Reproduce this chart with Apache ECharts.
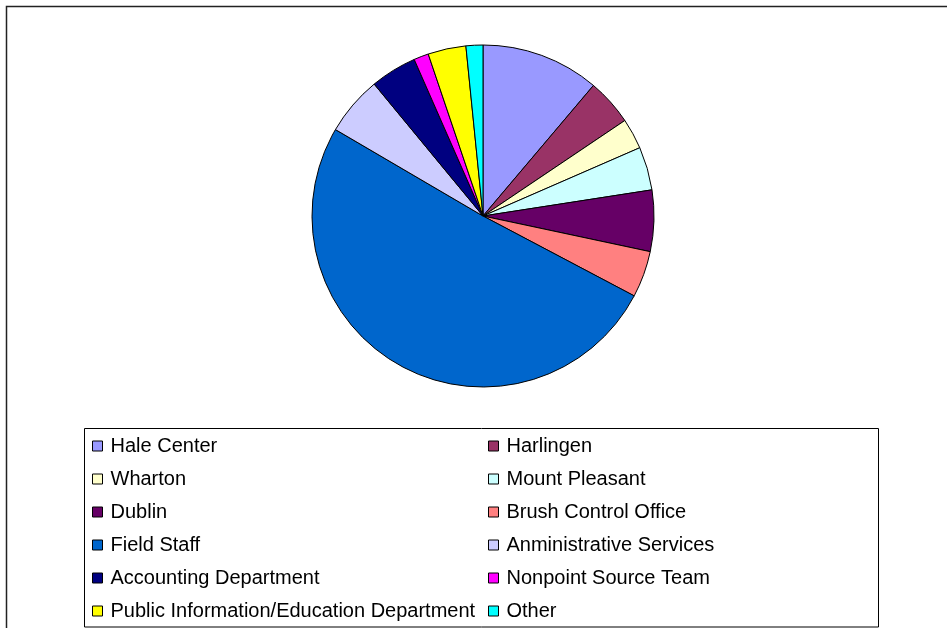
<!DOCTYPE html>
<html>
<head>
<meta charset="utf-8">
<script src="https://cdn.jsdelivr.net/npm/echarts@6/dist/echarts.min.js"></script>
<style>
  html, body { margin: 0; padding: 0; background: #fff; }
  #chart { width: 947px; height: 628px; }
</style>
</head>
<body>
<div id="chart"></div>
<script>
// Staff share by office (percent of total)
const offices = [
  'Hale Center', 'Harlingen', 'Wharton', 'Mount Pleasant', 'Dublin',
  'Brush Control Office', 'Field Staff', 'Anministrative Services',
  'Accounting Department', 'Nonpoint Source Team',
  'Public Information/Education Department', 'Other'
];
const shares = [11.2, 4.4, 2.9, 4.1, 5.8, 4.4, 50.8, 5.6, 4.4, 1.4, 3.6, 1.6];
const palette = [
  '#9999FF', '#993366', '#FFFFCC', '#CCFFFF', '#660066', '#FF8080',
  '#0066CC', '#CCCCFF', '#000080', '#FF00FF', '#FFFF00', '#00FFFF'
];

// Legend is laid out in two columns, filled row by row
const leftColumn = offices.filter((_, i) => i % 2 === 0);
const rightColumn = offices.filter((_, i) => i % 2 === 1);

const legendText = {
  fontFamily: 'Liberation Sans, Arial, sans-serif',
  fontSize: 20,
  color: '#000',
  lineHeight: 20,
  padding: [0, 0, 0, 3]
};
const legendBase = {
  orient: 'vertical',
  top: 436,
  itemGap: 13,
  itemWidth: 10,
  itemHeight: 10,
  icon: 'rect',
  selectedMode: false,
  itemStyle: { borderColor: '#000', borderWidth: 1 },
  textStyle: legendText,
  padding: 0
};

const chart = echarts.init(document.getElementById('chart'), null, { renderer: 'canvas' });
chart.setOption({
  animation: false,
  color: palette,
  graphic: [
    // outer chart frame
    { type: 'rect', shape: { x: 6.5, y: 6.5, width: 960, height: 640 },
      style: { fill: 'none', stroke: '#222', lineWidth: 1.5 }, silent: true },
    // legend frame
    { type: 'rect', shape: { x: 84.5, y: 428.5, width: 794, height: 198.5 },
      style: { fill: 'none', stroke: '#000', lineWidth: 1 }, silent: true }
  ],
  legend: [
    Object.assign({}, legendBase, { left: 92, data: leftColumn }),
    Object.assign({}, legendBase, { left: 488, data: rightColumn })
  ],
  series: [{
    type: 'pie',
    center: [483, 216],
    radius: 171,
    startAngle: 90,
    clockwise: true,
    label: { show: false },
    labelLine: { show: false },
    emphasis: { disabled: true },
    itemStyle: { borderColor: '#000', borderWidth: 1 },
    data: offices.map((name, i) => ({ name: name, value: shares[i] }))
  }]
});
</script>
</body>
</html>
